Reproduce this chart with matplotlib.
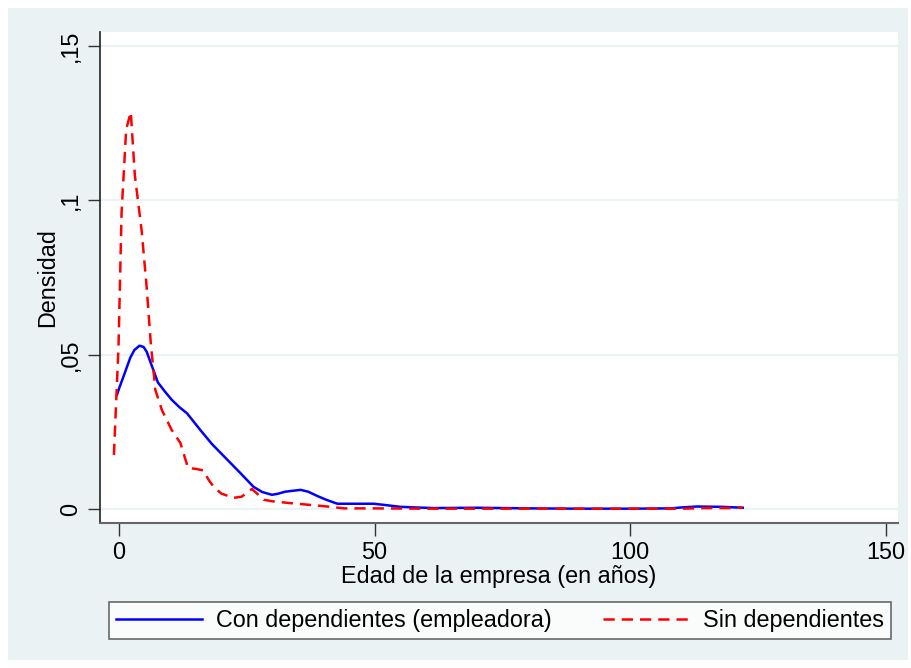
import matplotlib
matplotlib.use("Agg")
import matplotlib.pyplot as plt
from matplotlib.patches import Rectangle

plt.rcParams['font.family'] = ['Liberation Sans', 'DejaVu Sans']

# Data
x_con = [-0.4, 0, 1, 2.2, 3, 4, 4.8, 5.4, 6.5, 7.6, 9, 10.3, 11.8, 13.3, 15.9, 18.2, 20.8,
         23.7, 26.3, 28, 29.9, 31, 32.5, 35.5, 37, 38.8, 40.5, 42.7, 46, 49.8, 52, 55,
         58, 61.6, 70, 80, 90, 100, 108, 110, 113, 118, 122]
y_con = [0.037, 0.039, 0.0435, 0.049, 0.0515, 0.0529, 0.0525, 0.051, 0.046, 0.041, 0.038,
         0.0354, 0.033, 0.031, 0.0256, 0.021, 0.0166, 0.0117, 0.0072, 0.0055, 0.0046,
         0.0049, 0.0056, 0.0062, 0.0056, 0.0042, 0.003, 0.0017, 0.0017, 0.0017, 0.0013,
         0.0007, 0.0005, 0.0003, 0.0004, 0.0002, 0.0001, 0.0001, 0.0002, 0.0005, 0.0008,
         0.0007, 0.0004]

x_sin = [-1, -0.1, 0.5, 1.4, 2.3, 3.1, 4.4, 5.4, 6.2, 7.1, 8.4, 10.3, 12, 13.5, 15, 16.5,
         17.5, 18.5, 20, 22.4, 24, 26, 27, 28.3, 30, 32.9, 37.5, 41.4, 44, 50, 60, 70, 80,
         90, 100, 110, 115, 120, 122]
y_sin = [0.0175, 0.0526, 0.096, 0.123, 0.1286, 0.108, 0.0906, 0.072, 0.054, 0.0386, 0.032,
         0.0256, 0.0214, 0.0133, 0.013, 0.0125, 0.0095, 0.0072, 0.005, 0.0036, 0.004,
         0.0065, 0.005, 0.003, 0.0025, 0.002, 0.0013, 0.0007, 0.0002, 0.0002, 0.0001,
         0.0001, 0.0001, 0.0001, 0.0001, 0.0001, 0.0003, 0.0003, 0.0005]

labels = ["Con dependientes (empleadora)", "Sin dependientes"]
yticks = [0, 0.05, 0.1, 0.15]
yticklabels = ["0", ",05", ",1", ",15"]
xticks = [0, 50, 100, 150]
xticklabels = ["0", "50", "100", "150"]

FS = 16.8
W, H = 912, 668
BG = '#EAF2F3'
fig = plt.figure(figsize=(W / 100, H / 100), dpi=100)
fig.patch.set_facecolor('white')
fig.patches.append(Rectangle((8 / W, 8 / H), 900 / W, 652 / H, transform=fig.transFigure,
                             facecolor=BG, edgecolor='none', zorder=-10))

ax = fig.add_axes([100 / W, (H - 523) / H, 798 / W, 491 / H])
ax.set_facecolor('white')
ax.plot(x_con, y_con, color='#0000FF', lw=1.8, label=labels[0], zorder=3)
ax.plot(x_sin, y_sin, color='#FF0000', lw=1.8, ls=(0, (4.5, 2.8)), label=labels[1], zorder=3)

ax.set_xlim(-3.72, 152.36)
ax.set_ylim(-0.00454, 0.15454)
ax.set_yticks(yticks)
ax.set_yticklabels(yticklabels, rotation=90, va='center', fontsize=FS)
ax.set_xticks(xticks)
ax.set_xticklabels(xticklabels, fontsize=FS)
ax.yaxis.grid(True, color=BG, lw=1.5)
ax.set_axisbelow(True)
ax.tick_params(axis='both', length=9, width=1, color='#333333', pad=4)

for s in ['top', 'right']:
    ax.spines[s].set_visible(False)
ax.spines['left'].set_color('#222222')
ax.spines['left'].set_linewidth(1.2)
ax.spines['bottom'].set_color('#666666')
ax.spines['bottom'].set_linewidth(1.5)

ax.set_xlabel("Edad de la empresa (en años)", fontsize=FS, labelpad=1)
ax.set_ylabel("Densidad", fontsize=FS, labelpad=0)

leg = fig.legend(loc='center', bbox_to_anchor=(109 / W, (H - 642) / H, 782 / W, 43 / H),
                 mode='expand', ncol=2, fontsize=FS, handlelength=3.7, handletextpad=0.6,
                 columnspacing=2.0, frameon=True, fancybox=False, borderaxespad=0,
                 borderpad=0.3)
leg.get_frame().set_edgecolor('#444444')
leg.get_frame().set_linewidth(1.2)
leg.get_frame().set_facecolor('white')

fig.savefig("out.png", dpi=100, facecolor=fig.get_facecolor())
